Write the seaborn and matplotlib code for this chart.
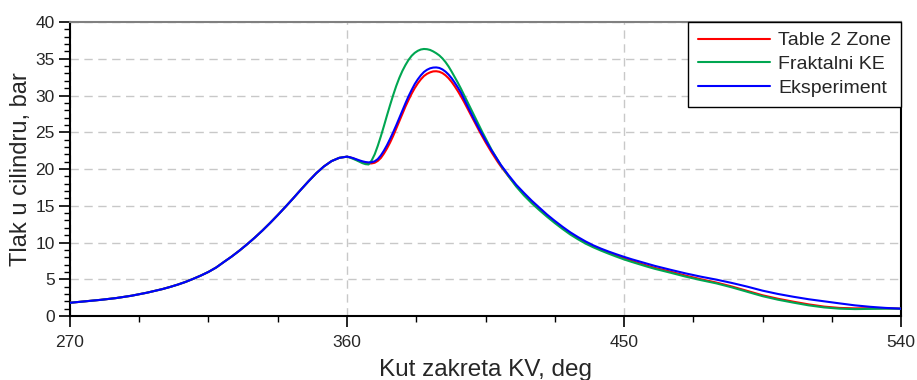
import numpy as np
import pandas as pd
import matplotlib
matplotlib.use("Agg")
import matplotlib.pyplot as plt
from matplotlib.ticker import MultipleLocator
import seaborn as sns

# Crank angle (deg), shared by the compression part of all series
angle_comp = [270, 275, 280, 285, 290, 295, 300, 302.5, 305, 307.5, 310, 312.5, 315,
              317.5, 320, 322.5, 325, 327.5, 330, 332.5, 335, 337.5, 340, 342.5, 345,
              347.5, 350, 352.5, 355, 357.5, 360]
p_comp = [1.80, 2.00, 2.20, 2.44, 2.76, 3.17, 3.66, 3.95, 4.27, 4.63, 5.05, 5.50, 6.00,
          6.60, 7.35, 8.08, 8.88, 9.74, 10.65, 11.62, 12.65, 13.73, 14.85, 16.00, 17.18,
          18.33, 19.42, 20.35, 21.08, 21.52, 21.68]

# Crank angle (deg) after TDC
angle_comb = [361, 362, 363, 364, 365, 366, 367, 368, 369, 370, 371, 372, 373, 374, 375,
              376, 377, 378, 379, 380, 381, 382, 383, 384, 385, 386, 387, 388, 389, 390,
              391, 392, 393, 394, 395, 396, 397, 398, 399, 400, 401, 402, 403, 404, 405,
              406, 407, 408, 409, 410, 412.5, 415, 417.5, 420, 422.5, 425, 427.5, 430,
              432.5, 435, 437.5, 440, 442.5, 445, 447.5, 450, 452.5, 455, 457.5, 460,
              465, 470, 475, 480, 485, 490, 495, 500, 505, 510, 515, 520, 525, 530, 535, 540]

# Cylinder pressure (bar)
table_2_zone = [21.58, 21.45, 21.28, 21.10, 20.95, 20.82, 20.75, 20.76, 20.85, 21.10, 21.50, 22.10, 22.80, 23.60, 24.50,
                25.50, 26.50, 27.50, 28.50, 29.40, 30.25, 31.00, 31.65, 32.20, 32.65, 32.95, 33.15, 33.28, 33.30, 33.23,
                33.05, 32.75, 32.35, 31.85, 31.25, 30.60, 29.90, 29.15, 28.35, 27.55, 26.75, 25.95, 25.15, 24.40, 23.65,
                22.95, 22.25, 21.60, 20.95, 20.35, 19.00, 17.70, 16.60, 15.55, 14.60, 13.65, 12.80, 12.00,
                11.25, 10.60, 10.00, 9.50, 9.05, 8.62, 8.22, 7.85, 7.50, 7.18, 6.86, 6.55,
                6.05, 5.50, 5.00, 4.55, 4.02, 3.42, 2.82, 2.35, 1.95, 1.58, 1.28, 1.10, 1.04, 1.06, 1.05, 1.00]

fraktalni_ke = [21.55, 21.38, 21.20, 21.00, 20.80, 20.66, 20.62, 21.15, 22.00, 23.15, 24.45, 25.85, 27.30, 28.70, 30.05,
                31.30, 32.40, 33.35, 34.15, 34.85, 35.40, 35.80, 36.08, 36.26, 36.33, 36.30, 36.20, 36.00, 35.75, 35.45,
                35.05, 34.55, 33.95, 33.25, 32.50, 31.75, 30.95, 30.10, 29.25, 28.40, 27.55, 26.70, 25.85, 25.00, 24.20,
                23.40, 22.60, 21.90, 21.20, 20.50, 19.00, 17.60, 16.40, 15.35, 14.40, 13.50, 12.65, 11.85,
                11.10, 10.45, 9.85, 9.35, 8.90, 8.48, 8.08, 7.70, 7.36, 7.04, 6.72, 6.42,
                5.90, 5.36, 4.88, 4.44, 3.90, 3.30, 2.70, 2.22, 1.82, 1.45, 1.17, 1.00, 0.94, 0.97, 1.00, 1.00]

eksperiment = [21.60, 21.48, 21.33, 21.18, 21.05, 20.95, 20.90, 20.92, 21.05, 21.35, 21.85, 22.50, 23.25, 24.10, 25.00,
               25.95, 26.95, 27.95, 28.95, 29.90, 30.75, 31.55, 32.20, 32.75, 33.20, 33.50, 33.70, 33.80, 33.82, 33.75,
               33.55, 33.25, 32.85, 32.35, 31.75, 31.10, 30.40, 29.55, 28.70, 27.85, 27.00, 26.20, 25.40, 24.65, 23.90,
               23.20, 22.50, 21.85, 21.20, 20.55, 19.15, 17.85, 16.75, 15.70, 14.75, 13.80, 12.95, 12.15,
               11.40, 10.75, 10.15, 9.62, 9.17, 8.77, 8.40, 8.05, 7.72, 7.42, 7.12, 6.82,
               6.30, 5.80, 5.35, 4.95, 4.50, 4.00, 3.45, 3.00, 2.62, 2.28, 2.00, 1.72, 1.45, 1.25, 1.10, 1.00]

series_names = ["Table 2 Zone", "Fraktalni KE", "Eksperiment"]
series_colors = ["#ff0000", "#00a651", "#0000ff"]

frames = []
for name, vals in zip(series_names, [table_2_zone, fraktalni_ke, eksperiment]):
    frames.append(pd.DataFrame({"angle": angle_comp + angle_comb,
                                "p": p_comp + vals, "series": name}))
df = pd.concat(frames, ignore_index=True)

sns.set_theme(style="white")
plt.rcParams["font.family"] = ["Liberation Sans", "DejaVu Sans"]

fig = plt.figure(figsize=(9.17, 3.80), dpi=100)
ax = fig.add_axes([0.0763, 0.1684, 0.9063, 0.7737])

sns.lineplot(data=df, x="angle", y="p", hue="series", hue_order=series_names,
             palette=dict(zip(series_names, series_colors)), estimator=None,
             sort=False, linewidth=1.5, ax=ax, zorder=3)

ax.set_xlim(270, 540)
ax.set_ylim(0, 40)
ax.xaxis.set_major_locator(MultipleLocator(90))
ax.xaxis.set_minor_locator(MultipleLocator(22.5))
ax.yaxis.set_major_locator(MultipleLocator(5))
ax.yaxis.set_minor_locator(MultipleLocator(1))

ax.grid(True, which="major", color="#c8c8c8", linestyle=(0, (6, 4)), linewidth=1.0)
ax.set_axisbelow(True)

ax.tick_params(axis="both", which="major", direction="out", length=8, width=1.2,
               color="black", labelsize=12.5, bottom=True, left=True, pad=3)
ax.tick_params(axis="both", which="minor", direction="out", length=4, width=1.0,
               color="black", bottom=True, left=True)
ax.tick_params(axis="x", which="major", pad=6)

for side in ["left", "bottom", "right"]:
    ax.spines[side].set_color("black")
    ax.spines[side].set_linewidth(1.5)
ax.spines["top"].set_color("#808080")
ax.spines["top"].set_linewidth(1.5)

ax.set_xlabel("Kut zakreta KV, deg", fontsize=17.5, labelpad=6)
ax.set_ylabel("Tlak u cilindru, bar", fontsize=17, labelpad=2)

leg = ax.legend(loc="upper right", fontsize=14, frameon=True, fancybox=False,
                edgecolor="black", framealpha=1, borderaxespad=0, handlelength=3.7,
                handletextpad=0.45, labelspacing=0.32, borderpad=0.5, title=None)
leg.get_frame().set_linewidth(1.0)

fig.savefig("out.png", dpi=100)
